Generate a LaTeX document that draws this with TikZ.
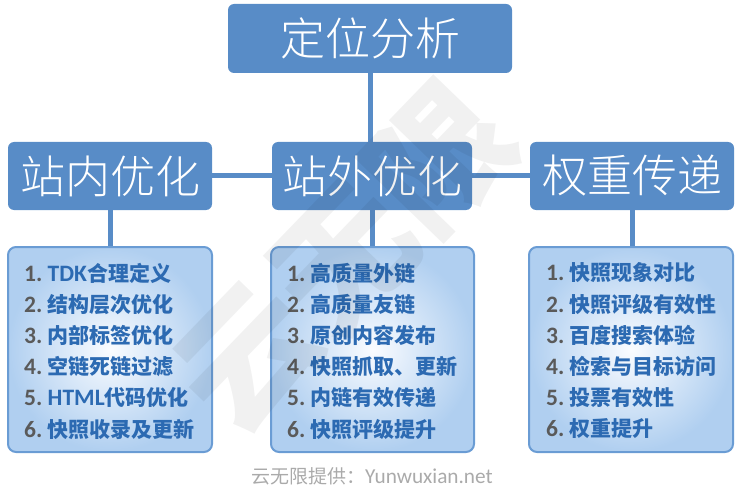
\documentclass[tikz,border=0pt]{standalone}
\usepackage{fontspec}
\setmainfont{Noto Sans CJK SC}
\newfontfamily\cjk{Noto Sans CJK SC}
\newfontfamily\cjkl{Noto Sans CJK SC Light}
\newfontfamily\lat{Carlito}[Scale=1.12]
\definecolor{hdr}{RGB}{88,140,199}
\definecolor{bord}{RGB}{106,156,212}
\definecolor{lout}{RGB}{176,207,240}
\definecolor{lin}{RGB}{250,252,255}
\definecolor{txtb}{RGB}{44,106,178}
\definecolor{numg}{RGB}{90,90,90}
\definecolor{foot}{RGB}{170,170,170}
\newcommand\itm[2]{{\lat\bfseries\color{numg}#1.\ }{\bfseries\color{txtb}#2}}
\begin{document}
\begin{tikzpicture}[x=1pt,y=-1pt,
  hbox/.style={rectangle,rounded corners=6pt,fill=hdr,text=white,
    font=\cjkl\fontsize{45}{45}\selectfont,inner sep=0pt},
  lbox/.style={rectangle,rounded corners=8pt,draw=bord,line width=2pt,
    inner color=lin,outer color=lout,minimum width=204pt,minimum height=205pt},
  ltext/.style={anchor=west,align=left,inner sep=0pt,
    font=\fontsize{21}{31.2}\selectfont},
  conn/.style={draw=hdr,line width=5pt}]
\useasboundingbox (0,0) rectangle (742,500);
% header nodes
\node[hbox,minimum width=284pt,minimum height=69pt] (top) at (370,38.5) {定位分析};
\node[hbox,minimum width=204pt,minimum height=68pt] (left) at (110,176) {站内优化};
\node[hbox,minimum width=200pt,minimum height=68pt] (mid) at (372,176) {站外优化};
\node[hbox,minimum width=204pt,minimum height=68pt] (right) at (632,176) {权重传递};
% list boxes
\node[lbox] (lb) at (110,349.5) {};
\node[lbox,minimum width=203pt] (mb) at (372.5,349.5) {};
\node[lbox] (rb) at (631,349.5) {};
% list texts
\node[ltext] (lt) at ([xshift=17pt,yshift=-1.5pt]lb.west) {%
\itm{1}{{\lat TDK}合理定义}\\
\itm{2}{结构层次优化}\\
\itm{3}{内部标签优化}\\
\itm{4}{空链死链过滤}\\
\itm{5}{{\lat HTML}代码优化}\\
\itm{6}{快照收录及更新}};
\node[ltext] (mt) at ([xshift=17pt,yshift=-1.5pt]mb.west) {%
\itm{1}{高质量外链}\\
\itm{2}{高质量友链}\\
\itm{3}{原创内容发布}\\
\itm{4}{快照抓取、更新}\\
\itm{5}{内链有效传递}\\
\itm{6}{快照评级提升}};
\node[ltext] (rt) at ([xshift=18pt,yshift=-1.5pt]rb.west) {%
\itm{1}{快照现象对比}\\
\itm{2}{快照评级有效性}\\
\itm{3}{百度搜索体验}\\
\itm{4}{检索与目标访问}\\
\itm{5}{投票有效性}\\
\itm{6}{权重提升}};
% connectors
\draw[conn] (top.south) -- (top.south |- mid.north);
\draw[conn] (left.east) -- (mid.west);
\draw[conn] (mid.east) -- (right.west);
\draw[conn] (left.south) -- (lb.north);
\draw[conn] (mid.south) -- (mid.south |- mb.north);
\draw[conn] (right.south) -- (right.south |- rb.north);
% watermark
\node[rotate=46,font=\cjk\bfseries\fontsize{138}{138}\selectfont,text=black,text opacity=0.055] (wm) at (345,258) {云无限};
% footer
\node[text=foot,font=\fontsize{19}{19}\selectfont] (ft) at (372,476) {云无限提供：{\lat Yunwuxian.net}};
\end{tikzpicture}
\end{document}
